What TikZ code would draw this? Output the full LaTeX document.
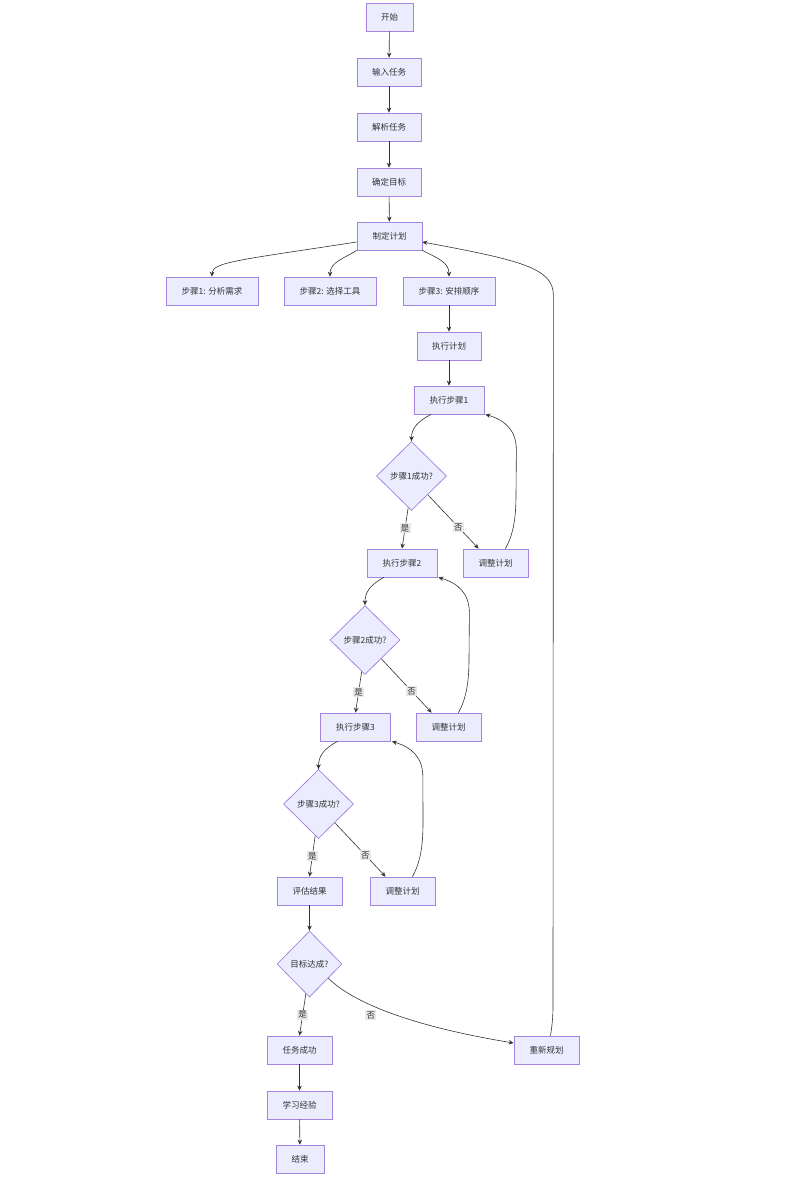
\documentclass[tikz,border=0pt]{standalone}
\usepackage{fontspec}
\setmainfont{Noto Sans CJK SC}
\usetikzlibrary{shapes.geometric,arrows.meta,calc}
\definecolor{nodefill}{HTML}{ECECFF}
\definecolor{nodeline}{HTML}{9370DB}
\definecolor{edgecol}{HTML}{333333}
\definecolor{labfill}{HTML}{E8E8E8}
\begin{document}
\begin{tikzpicture}[x=1pt,y=-1pt,
  txt/.style={text=edgecol, font=\fontsize{8.5}{10}\selectfont},
  box/.style={txt, draw=nodeline!85!white, fill=nodefill, line width=0.75pt, minimum height=28pt, inner sep=2pt},
  dia/.style={txt, diamond, draw=nodeline!85!white, fill=nodefill, line width=0.75pt, inner sep=0pt, minimum width=70pt, minimum height=69pt},
  edge/.style={draw=edgecol, line width=0.6pt, -{Stealth[length=5pt,width=4.5pt]}},
  lab/.style={txt, fill=labfill, inner sep=1.2pt}]
\useasboundingbox[fill=white] (0,0) rectangle (785,1177);

\node[box, minimum width=47pt] (start) at (389.5,17) {开始};
\node[box, minimum width=64pt] (input) at (389,72) {输入任务};
\node[box, minimum width=64pt] (parse) at (389,127) {解析任务};
\node[box, minimum width=64pt] (goal) at (389,182) {确定目标};
\node[box, minimum width=65pt] (plan) at (389.5,236) {制定计划};
\node[box, minimum width=92pt] (s1) at (212,291) {步骤1: 分析需求};
\node[box, minimum width=92pt] (s2) at (330,291) {步骤2: 选择工具};
\node[box, minimum width=92pt] (s3) at (449,291) {步骤3: 安排顺序};
\node[box, minimum width=64pt] (exec) at (449,346) {执行计划};
\node[box, minimum width=70pt] (e1) at (449,400) {执行步骤1};
\node[dia] (d1) at (411.5,476) {步骤1成功?};
\node[box, minimum width=70pt] (e2) at (402,563) {执行步骤2};
\node[box, minimum width=65pt] (a1) at (495.5,563) {调整计划};
\node[dia] (d2) at (365,640) {步骤2成功?};
\node[box, minimum width=70pt] (e3) at (355.5,727) {执行步骤3};
\node[box, minimum width=65pt] (a2) at (448.5,727) {调整计划};
\node[dia] (d3) at (318.5,804) {步骤3成功?};
\node[box, minimum width=65pt] (eval) at (309.5,891) {评估结果};
\node[box, minimum width=65pt] (a3) at (402.5,891) {调整计划};
\node[dia, minimum width=65pt, minimum height=66pt] (d4) at (309.5,964) {目标达成?};
\node[box, minimum width=65pt] (ok) at (299.5,1050) {任务成功};
\node[box, minimum width=65pt] (replan) at (546.5,1050) {重新规划};
\node[box, minimum width=65pt] (learn) at (299.5,1105) {学习经验};
\node[box, minimum width=48pt] (end) at (300,1159) {结束};

\draw[edge] (start) -- (input);
\draw[edge] (input) -- (parse);
\draw[edge] (parse) -- (goal);
\draw[edge] (goal) -- (plan);
\draw[edge] ([yshift=-6pt]plan.west) .. controls (240,260) and (212,262) .. (s1.north);
\draw[edge] (plan.south west) .. controls (345,258) and (330,262) .. (s2.north);
\draw[edge] (plan.south east) .. controls (437,258) and (449,262) .. (s3.north);
\draw[edge] (s3) -- (exec);
\draw[edge] (exec) -- (e1);

\foreach \e/\d/\a/\n in {e1/d1/a1/e2, e2/d2/a2/e3, e3/d3/a3/eval} {
  \draw[edge] ([xshift=-18pt]\e.south) .. controls +(-15,8) and +(0,-12) .. (\d.north);
  \draw[edge] (\d.-96) -- node[lab]{是} (\n.north);
  \draw[edge] (\d.-49) -- node[lab,pos=0.6]{否} ([xshift=16pt]\a.north west);
  \draw[edge] ([xshift=10pt]\a.north) .. controls +(7.5,-14) and +(0,25) .. ($(\a.north)+(20.5,-54)$)
     -- ($(\e.south east)+(32,36)$) .. controls +(0,-20) and +(20,6) .. ([xshift=1pt]\e.south east);
}

\draw[edge] (eval) -- (d4);
\draw[edge] (d4.-97) -- node[lab]{是} (ok.north);
\draw[edge] (d4.-37) .. controls (352,1002) and (410,1026) .. node[lab,pos=0.38,yshift=-10pt]{否} ([yshift=7pt]replan.west);
\draw[edge] (ok) -- (learn);
\draw[edge] (learn) -- (end);
\draw[edge] ([xshift=4pt]replan.north) .. controls +(1.5,-10) and +(0,12) .. ($(replan.north)+(6.5,-30)$)
   -- ($(plan.east)+(131,59)$) .. controls +(0,-27) and +(97,18) .. ([yshift=-6pt]plan.east);
\end{tikzpicture}
\end{document}
